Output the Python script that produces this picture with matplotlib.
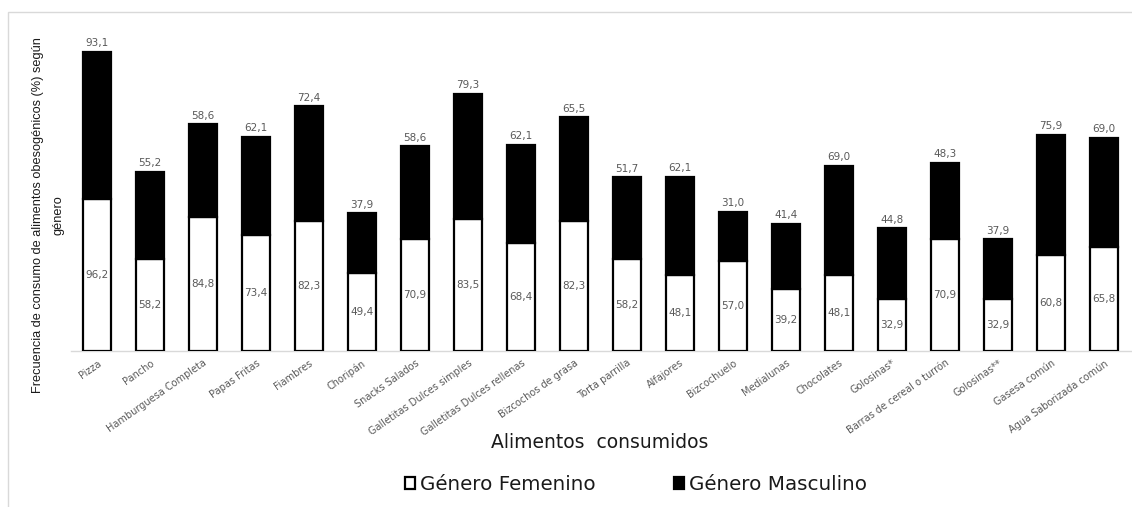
import matplotlib
matplotlib.use("Agg")
import matplotlib.pyplot as plt
from matplotlib.patches import Patch, Rectangle
import numpy as np

categories = ["Pizza", "Pancho", "Hamburguesa Completa", "Papas Fritas", "Fiambres",
              "Choripán", "Snacks Salados", "Galletitas Dulces simples",
              "Galletitas Dulces rellenas", "Bizcochos de grasa", "Torta parrilla",
              "Alfajores", "Bizcochuelo", "Medialunas", "Chocolates", "Golosinas*",
              "Barras de cereal o turrón", "Golosinas**", "Gasesa común",
              "Agua Saborizada común"]
femenino = [96.2, 58.2, 84.8, 73.4, 82.3, 49.4, 70.9, 83.5, 68.4, 82.3,
            58.2, 48.1, 57.0, 39.2, 48.1, 32.9, 70.9, 32.9, 60.8, 65.8]
masculino = [93.1, 55.2, 58.6, 62.1, 72.4, 37.9, 58.6, 79.3, 62.1, 65.5,
             51.7, 62.1, 31.0, 41.4, 69.0, 44.8, 48.3, 37.9, 75.9, 69.0]

W, H = 1132, 507
fig = plt.figure(figsize=(W / 100, H / 100), dpi=100)

# outer light border
fig.patches.append(Rectangle((8 / W, -0.1), 1.2, (H - 12) / H + 0.1,
                             transform=fig.transFigure, fill=False,
                             edgecolor="#d9d9d9", linewidth=1.0))

ax = fig.add_axes([70.5 / W, (H - 351) / H, 1060 / W, 332 / H])
x = np.arange(len(categories))
width = 0.53

ax.bar(x, femenino, width, color="white", edgecolor="black", linewidth=1.6, zorder=3)
ax.bar(x, masculino, width, bottom=femenino, color="black", edgecolor="black",
       linewidth=1.6, zorder=3)

def fmt(v):
    return f"{v:.1f}".replace(".", ",")

for xi, f, m in zip(x, femenino, masculino):
    ax.text(xi, f / 2, fmt(f), ha="center", va="center", fontsize=7.5,
            color="#595959", zorder=4)
    ax.annotate(fmt(m), (xi, f + m), xytext=(0, 2.5), textcoords="offset points",
                ha="center", va="bottom", fontsize=7.5, color="#595959")

ax.set_xlim(-0.5, len(categories) - 0.5)
ax.set_ylim(0, 210)
ax.set_yticks([])
for s in ["top", "right", "left"]:
    ax.spines[s].set_visible(False)
ax.spines["bottom"].set_color("#d9d9d9")
ax.spines["bottom"].set_linewidth(1.0)
ax.set_xticks(x)
ax.set_xticklabels(categories, rotation=35, ha="right", rotation_mode="anchor",
                   fontsize=7, color="#595959")
ax.tick_params(axis="x", length=0, pad=5)

fig.text(600 / W, 1 - 443 / H, "Alimentos  consumidos", ha="center", va="center",
         fontsize=13.5, color="#1a1a1a")

fig.text(48 / W, 1 - 215 / H,
         "Frecuencia de consumo de alimentos obesogénicos (%) según\ngénero",
         rotation=90, ha="center", va="center", fontsize=9.2, linespacing=1.9,
         family=["Liberation Sans", "DejaVu Sans"],
         color="#1a1a1a", multialignment="center")

handles = [Patch(facecolor="white", edgecolor="black", linewidth=1.6),
           Patch(facecolor="black", edgecolor="black", linewidth=1.6)]
fig.legend(handles, ["Género Femenino", "Género Masculino"],
           loc="center", bbox_to_anchor=(636 / W, 1 - 485 / H), ncol=2,
           frameon=False, fontsize=14.3, handlelength=0.55, handleheight=0.55,
           handletextpad=0.25, columnspacing=3.9, labelcolor="#1a1a1a")

fig.savefig("out.png", dpi=100)
